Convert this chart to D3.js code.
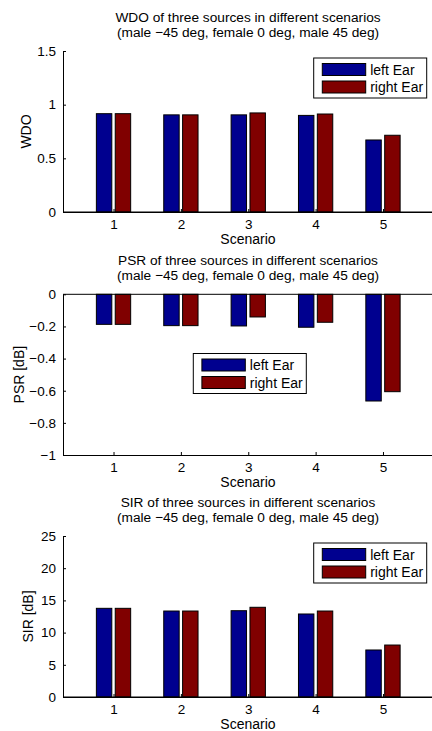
<!DOCTYPE html>
<html>
<head>
<meta charset="utf-8">
<script src="https://cdn.jsdelivr.net/npm/d3@7.9.0/dist/d3.min.js"></script>
<style>
  html, body { margin: 0; padding: 0; background: #fff; }
  svg { display: block; font-family: "Liberation Sans", Arial, Helvetica, sans-serif; }
</style>
</head>
<body>
<div id="chart"></div>
<script>
// data
const scenarios = [1, 2, 3, 4, 5];
const seriesNames = ['left Ear', 'right Ear'];
const seriesColors = ['#00008f', '#800000'];

const wdoLeft = [0.916, 0.905, 0.905, 0.900, 0.671];
const wdoRight = [0.916, 0.905, 0.923, 0.913, 0.715];

const psrLeft = [-0.187, -0.195, -0.197, -0.205, -0.664];
const psrRight = [-0.187, -0.195, -0.141, -0.174, -0.606];

const sirLeft = [13.77, 13.35, 13.40, 12.89, 7.30];
const sirRight = [13.77, 13.35, 13.93, 13.35, 8.07];

const wdoTicks = [0, 0.5, 1, 1.5];
const psrTicks = [0, -0.2, -0.4, -0.6, -0.8, -1];
const sirTicks = [0, 5, 10, 15, 20, 25];

const subtitle = '(male \u221245 deg, female 0 deg, male 45 deg)';

const width = 432, height = 731;
const svg = d3.select('#chart').append('svg')
  .attr('width', width)
  .attr('height', height);

svg.append('rect').attr('width', width).attr('height', height).attr('fill', '#fff');

const fmt = (d) => String(d).replace('-', '\u2212');

function drawPanel(p) {
  const g = svg.append('g');

  const x = d3.scaleLinear().domain([0.25, 5.75]).range([63, 433.5]);
  const y = d3.scaleLinear().domain(p.yDomain).range([p.bottom, p.top]);

  const barW = 0.229;
  const offsets = [-0.14, 0.14];
  const series = [p.left, p.right];

  // bars
  series.forEach((vals, si) => {
    g.append('g')
      .selectAll('rect')
      .data(scenarios)
      .join('rect')
      .attr('x', (d) => x(d + offsets[si] - barW / 2))
      .attr('width', (d) => x(d + offsets[si] + barW / 2) - x(d + offsets[si] - barW / 2))
      .attr('y', (d, i) => y(Math.max(0, vals[i])))
      .attr('height', (d, i) => Math.abs(y(vals[i]) - y(0)))
      .attr('fill', seriesColors[si])
      .attr('stroke', '#000')
      .attr('stroke-width', 1);
  });

  // baseline at zero
  g.append('line')
    .attr('x1', x(0.25)).attr('x2', x(5.75))
    .attr('y1', y(0)).attr('y2', y(0))
    .attr('stroke', '#000');

  // y axis
  const yAxis = d3.axisLeft(y)
    .tickValues(p.ticks)
    .tickFormat(fmt)
    .tickSizeInner(-3)
    .tickSizeOuter(0)
    .tickPadding(7);
  const ya = g.append('g').attr('transform', `translate(${x(0.25)},0)`).call(yAxis);
  ya.select('.domain').attr('stroke', '#000');
  ya.selectAll('text').attr('font-size', 13.5).attr('fill', '#000').attr('font-family', null);

  // x axis
  const xAxis = d3.axisBottom(x)
    .tickValues(scenarios)
    .tickFormat(d3.format('d'))
    .tickSizeInner(-3)
    .tickSizeOuter(0)
    .tickPadding(7);
  const xa = g.append('g').attr('transform', `translate(0,${p.bottom})`).call(xAxis);
  xa.select('.domain').attr('stroke', '#000');
  xa.selectAll('text').attr('font-size', 13.5).attr('fill', '#000').attr('font-family', null);

  // titles
  g.append('text')
    .attr('x', 248).attr('y', p.top - 29.5)
    .attr('text-anchor', 'middle').attr('font-size', 13.7)
    .text(p.title);
  g.append('text')
    .attr('x', 248).attr('y', p.top - 14.5)
    .attr('text-anchor', 'middle').attr('font-size', 13.7)
    .text(subtitle);

  // x label
  g.append('text')
    .attr('x', 248).attr('y', p.bottom + 32)
    .attr('text-anchor', 'middle').attr('font-size', 14)
    .text('Scenario');

  // y label
  g.append('text')
    .attr('transform', `translate(${p.ylabelX},${(p.top + p.bottom) / 2}) rotate(-90)`)
    .attr('text-anchor', 'middle').attr('font-size', 14)
    .text(p.ylabel);

  // legend
  const lg = g.append('g').attr('transform', `translate(${p.legend[0]},${p.legend[1]})`);
  lg.append('rect')
    .attr('width', 113).attr('height', 40)
    .attr('fill', '#fff').attr('stroke', '#000');
  seriesNames.forEach((name, i) => {
    lg.append('rect')
      .attr('x', 8.6).attr('y', 5.5 + i * 17.5)
      .attr('width', 43.4).attr('height', 12)
      .attr('fill', seriesColors[i]).attr('stroke', '#000');
    lg.append('text')
      .attr('x', 56.5).attr('y', 16.5 + i * 17.5)
      .attr('font-size', 14)
      .text(name);
  });
}

drawPanel({
  title: 'WDO of three sources in different scenarios',
  ylabel: 'WDO', ylabelX: 31,
  yDomain: [0, 1.5], ticks: wdoTicks,
  top: 51, bottom: 212,
  left: wdoLeft, right: wdoRight,
  legend: [313.7, 58]
});

drawPanel({
  title: 'PSR of three sources in different scenarios',
  ylabel: 'PSR [dB]', ylabelX: 23.5,
  yDomain: [-1, 0], ticks: psrTicks,
  top: 294.3, bottom: 455,
  left: psrLeft, right: psrRight,
  legend: [193.3, 353.5]
});

drawPanel({
  title: 'SIR of three sources in different scenarios',
  ylabel: 'SIR [dB]', ylabelX: 33,
  yDomain: [0, 25], ticks: sirTicks,
  top: 536, bottom: 697,
  left: sirLeft, right: sirRight,
  legend: [313.7, 543]
});
</script>
</body>
</html>
